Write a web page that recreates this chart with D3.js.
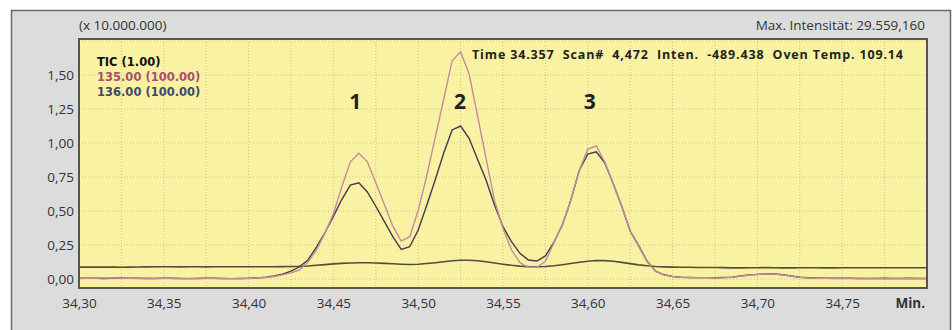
<!DOCTYPE html>
<html>
<head>
<meta charset="utf-8">
<script src="https://cdn.jsdelivr.net/npm/d3@7"></script>
<style>
  body { margin: 0; background: #fff; }
  svg { display: block; font-family: "Open Sans", "DejaVu Sans", sans-serif; }
</style>
</head>
<body>
<script>
// scan grid (min)
var scanStart = 34.30;
var scanStep = 0.005;

// TIC trace (x 10.000.000)
var tic = [
  0.087, 0.087, 0.088, 0.087, 0.087, 0.086, 0.087, 0.088, 0.089, 0.090,
  0.090, 0.090, 0.089, 0.090, 0.090, 0.089, 0.090, 0.090, 0.090, 0.090,
  0.090, 0.090, 0.090, 0.090, 0.091, 0.092, 0.093,
  0.096, 0.101, 0.106, 0.111, 0.115, 0.118, 0.120, 0.120, 0.118, 0.115, 0.112, 0.109, 0.107,
  0.109, 0.114, 0.120, 0.127, 0.134, 0.138, 0.138, 0.134, 0.127, 0.118, 0.109, 0.101, 0.095,
  0.091, 0.090, 0.092, 0.097, 0.105, 0.114, 0.123, 0.131, 0.136, 0.135, 0.130, 0.122, 0.113, 0.104, 0.097, 0.092, 0.089,
  0.087, 0.086, 0.086, 0.085, 0.085, 0.085, 0.084, 0.082, 0.082, 0.083,
  0.083, 0.084, 0.083, 0.082, 0.082, 0.083, 0.083, 0.083, 0.082, 0.082,
  0.083, 0.083, 0.083, 0.083, 0.083, 0.083, 0.083, 0.083, 0.083, 0.083, 0.083
];

// m/z 135 (x100)
var ion135 = [
  0.004, 0.005, 0.006, 0.008, 0.007, 0.006, 0.005, 0.004, 0.005, 0.006,
  0.005, 0.004, 0.003, 0.004, 0.005, 0.006, 0.004, 0.003, 0.003, 0.004,
  0.005, 0.007, 0.011, 0.018, 0.030, 0.045, 0.066,
  0.125, 0.213, 0.336, 0.480, 0.680, 0.862, 0.925, 0.862, 0.708, 0.549, 0.390, 0.279, 0.311,
  0.505, 0.757, 1.040, 1.320, 1.605, 1.670, 1.510, 1.200, 0.887, 0.576, 0.373, 0.213, 0.120,
  0.086, 0.086, 0.130, 0.265, 0.400, 0.580, 0.800, 0.955, 0.978, 0.860, 0.700, 0.535, 0.350, 0.240, 0.127, 0.056, 0.030,
  0.018, 0.012, 0.010, 0.009, 0.009, 0.008, 0.009, 0.012, 0.020, 0.028,
  0.033, 0.037, 0.036, 0.030, 0.021, 0.012, 0.008, 0.006, 0.005, 0.004,
  0.004, 0.005, 0.004, 0.003, 0.004, 0.004, 0.003, 0.004, 0.004, 0.004, 0.004
];

// m/z 136 (x100)
var ion136 = [
  0.005, 0.006, 0.005, 0.004, 0.005, 0.007, 0.006, 0.005, 0.004, 0.004,
  0.005, 0.006, 0.004, 0.003, 0.004, 0.005, 0.005, 0.004, 0.003, 0.004,
  0.005, 0.008, 0.013, 0.022, 0.036, 0.058, 0.090,
  0.140, 0.235, 0.340, 0.460, 0.586, 0.690, 0.708, 0.640, 0.535, 0.424, 0.311, 0.218, 0.237,
  0.360, 0.540, 0.728, 0.924, 1.096, 1.125, 1.035, 0.880, 0.728, 0.544, 0.385, 0.274, 0.189,
  0.140, 0.132, 0.170, 0.270, 0.397, 0.580, 0.800, 0.919, 0.936, 0.855, 0.700, 0.535, 0.352, 0.245, 0.130, 0.058, 0.031,
  0.018, 0.013, 0.011, 0.010, 0.010, 0.009, 0.011, 0.014, 0.022, 0.030,
  0.034, 0.038, 0.037, 0.031, 0.022, 0.013, 0.009, 0.007, 0.006, 0.005,
  0.005, 0.005, 0.004, 0.004, 0.004, 0.005, 0.004, 0.004, 0.005, 0.004, 0.004
];

var xTicks = [34.30, 34.35, 34.40, 34.45, 34.50, 34.55, 34.60, 34.65, 34.70, 34.75];
var yTicks = [0, 0.25, 0.5, 0.75, 1.0, 1.25, 1.5];
var legendLabels = ["TIC (1.00)", "135.00 (100.00)", "136.00 (100.00)"];
var peakLabels = [{ t: 34.4629, n: "1" }, { t: 34.5247, n: "2" }, { t: 34.6012, n: "3" }];
var infoText = "Time 34.357  Scan#  4,472  Inten.  -489.438  Oven Temp. 109.14";

var times = tic.map(function (d, i) { return scanStart + i * scanStep; });

var width = 952, height = 330;
var plot = { left: 79, right: 927, top: 39, bottom: 288 };

var de = d3.formatLocale({ decimal: ",", thousands: ".", grouping: [3], currency: ["", "€"] });
var fmt2 = de.format(".2f");

var svg = d3.select("body")
    .append("svg")
    .attr("width", width)
    .attr("height", height);

// outer grey panel
svg.append("rect")
    .attr("x", 11.5).attr("y", 10.5)
    .attr("width", 939).attr("height", 330)
    .attr("fill", "#dcdcdc")
    .attr("stroke", "#6a6a6a")
    .attr("stroke-width", 1.5);

var x = d3.scaleLinear()
    .domain([34.30, 34.80])
    .range([plot.left, plot.right]);

var y = d3.scaleLinear()
    .domain([0, 1.5])
    .range([279, 75]);

// yellow plot area
svg.append("rect")
    .attr("x", plot.left).attr("y", plot.top)
    .attr("width", plot.right - plot.left).attr("height", plot.bottom - plot.top)
    .attr("fill", "#f9f2a2");

// grid
var vGrid = d3.range(34.325, 34.79, 0.025);
svg.append("g").selectAll("line")
    .data(vGrid)
    .enter().append("line")
    .attr("x1", function (d) { return x(d); })
    .attr("x2", function (d) { return x(d); })
    .attr("y1", plot.top).attr("y2", plot.bottom)
    .attr("stroke", "#cbc486")
    .attr("stroke-width", 1)
    .attr("stroke-dasharray", "1,2");

svg.append("g").selectAll("line")
    .data(yTicks.concat([1.75]))
    .enter().append("line")
    .attr("x1", plot.left).attr("x2", plot.right)
    .attr("y1", function (d) { return y(d); })
    .attr("y2", function (d) { return y(d); })
    .attr("stroke", "#cbc486")
    .attr("stroke-width", 1)
    .attr("stroke-dasharray", "1,2");

// traces
svg.append("clipPath").attr("id", "clip")
    .append("rect")
    .attr("x", plot.left).attr("y", plot.top)
    .attr("width", plot.right - plot.left).attr("height", plot.bottom - plot.top);

var line = function (values) {
    return d3.line()
        .x(function (d, i) { return x(times[i]); })
        .y(function (d) { return y(d); })(values);
};

var traces = svg.append("g").attr("clip-path", "url(#clip)");
traces.append("path").attr("d", line(tic))
    .attr("fill", "none").attr("stroke", "#4f4f3a").attr("stroke-width", 1.6);
traces.append("path").attr("d", line(ion136))
    .attr("fill", "none").attr("stroke", "#45394f").attr("stroke-width", 1.4);
traces.append("path").attr("d", line(ion135))
    .attr("fill", "none").attr("stroke", "#c88a9f").attr("stroke-width", 1.4);

// plot frame
svg.append("rect")
    .attr("x", plot.left).attr("y", plot.top)
    .attr("width", plot.right - plot.left).attr("height", plot.bottom - plot.top)
    .attr("fill", "none")
    .attr("stroke", "#55554a")
    .attr("stroke-width", 2);

// axes
var xAxis = svg.append("g")
    .attr("transform", "translate(0," + plot.bottom + ")")
    .call(d3.axisBottom(x).tickValues(xTicks).tickSize(0).tickPadding(10).tickFormat(fmt2));
xAxis.select(".domain").remove();
xAxis.selectAll("text")
    .attr("font-size", "13.5px")
    .attr("font-family", "'Open Sans', sans-serif")
    .attr("fill", "#333");

var yAxis = svg.append("g")
    .attr("transform", "translate(" + plot.left + ",0)")
    .call(d3.axisLeft(y).tickValues(yTicks).tickSize(0).tickPadding(5).tickFormat(fmt2));
yAxis.select(".domain").remove();
yAxis.selectAll("text")
    .attr("font-size", "13.5px")
    .attr("font-family", "'Open Sans', sans-serif")
    .attr("fill", "#333");

svg.append("text")
    .attr("x", plot.right - 2).attr("y", 308)
    .attr("text-anchor", "end")
    .attr("font-size", "13.5px")
    .attr("font-weight", "bold")
    .attr("fill", "#333")
    .text("Min.");

// header texts
svg.append("text")
    .attr("x", plot.left).attr("y", 30)
    .attr("font-size", "13.5px")
    .attr("fill", "#333")
    .text("(x 10.000.000)");

svg.append("text")
    .attr("x", plot.right - 2).attr("y", 30)
    .attr("text-anchor", "end")
    .attr("font-size", "13.5px")
    .attr("fill", "#333")
    .text("Max. Intensität: 29.559,160");

svg.append("text")
    .attr("x", 472).attr("y", 59)
    .attr("font-size", "12.5px")
    .attr("font-weight", "bold")
    .attr("fill", "#222")
    .attr("textLength", 431)
    .attr("lengthAdjust", "spacing")
    .style("white-space", "pre")
    .text(infoText);

// legend
var legendColors = ["#111", "#a8506e", "#3c4a6a"];
svg.append("g").selectAll("text")
    .data(legendLabels)
    .enter().append("text")
    .attr("x", 97)
    .attr("y", function (d, i) { return 66 + i * 15; })
    .attr("font-family", "'DejaVu Sans', sans-serif")
    .attr("font-size", "11.5px")
    .attr("font-weight", "bold")
    .attr("fill", function (d, i) { return legendColors[i]; })
    .text(function (d) { return d; });

// peak numbers
svg.append("g").selectAll("text")
    .data(peakLabels)
    .enter().append("text")
    .attr("x", function (d) { return x(d.t); })
    .attr("y", 109)
    .attr("text-anchor", "middle")
    .attr("font-size", "21px")
    .attr("font-weight", "bold")
    .attr("fill", "#222")
    .text(function (d) { return d.n; });
</script>
</body>
</html>
